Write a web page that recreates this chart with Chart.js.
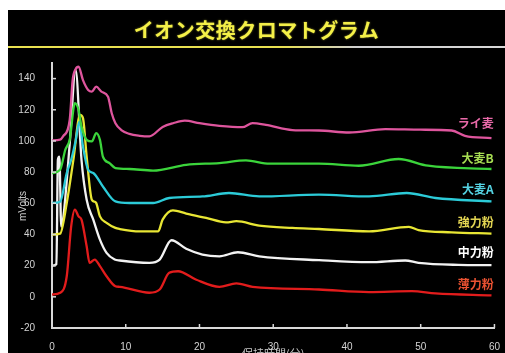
<!DOCTYPE html>
<html><head><meta charset="utf-8">
<script src="https://cdn.jsdelivr.net/npm/chart.js@4/dist/chart.umd.min.js"></script>
<style>
html,body{margin:0;padding:0;background:#fff;width:505px;height:353px;overflow:hidden;}
#panel{position:absolute;left:8px;top:10px;width:497px;height:360px;background:#000;overflow:hidden;}
#title{position:absolute;left:0;top:8px;width:497px;text-align:center;font-weight:bold;font-size:20px;font-family:'Noto Sans CJK JP',sans-serif;color:#f4f048;line-height:24px;letter-spacing:0.5px;text-shadow:0 0 2px rgba(244,240,72,0.6);}
#rule{position:absolute;left:0;top:36px;width:497px;height:2px;background:linear-gradient(to right,#e8e050 0%,#e8e050 55%,#cfcfcf 70%,#d8d8d8 100%);}
#ylab{position:absolute;left:-15px;top:190px;width:60px;height:12px;line-height:12px;text-align:center;font-size:10px;font-family:'Liberation Sans',Arial,sans-serif;color:#d0d0d0;transform:rotate(-90deg);}
canvas{position:absolute;left:0;top:0;}
</style></head>
<body>
<div id="panel">
<canvas id="c" width="497" height="360"></canvas>
<div id="title">イオン交換クロマトグラム</div>
<div id="rule"></div>
<div id="ylab">mVolts</div>
</div>
<script>
// ---- data (retention time in minutes, signal in mV) ----
const seriesNames = ['ライ麦','大麦B','大麦A','強力粉','中力粉','薄力粉'];

const ryeT = [0,1.1,1.5,2.4,2.8,3.2,3.6,4.2,4.9,5.4,6.0,6.7,7.6,8.1,8.6,9.4,10.5,11.9,13.2,15.0,16.5,18.0,20.0,22.7,25.8,27.2,29.0,32.6,36.2,40.3,45.2,50.0,54.2,56.0,59.6];
const ryeV = [100.4,100.8,102.9,113.5,139,146,147.6,139,132.7,131.6,134.8,131.6,128.4,117.8,111.4,107,104.5,103.3,102.9,109,111.5,113,111.4,109.7,108.8,111.4,110.3,107,106.7,105.4,107.6,107.2,106.7,103.3,101.8];

const barleyBT = [0,1.1,1.8,2.4,3.1,3.6,4.0,4.7,5.4,6.0,6.5,6.9,7.8,8.6,10.5,13.7,18.2,22.7,26.3,29.5,36.2,41.6,47.0,51.0,59.6];
const barleyBV = [79.4,81.5,94.3,100.7,124.2,120,109.2,100.7,99.7,105,100.7,90,85.8,82.6,82,81,84.7,85.8,87.5,85.4,85.4,84.1,88.4,84.1,82];

const barleyAT = [0,1.1,2.0,2.6,3.2,3.7,4.2,4.9,5.6,6.9,8.6,10.5,13.7,15.9,20.4,24.0,28.1,36.2,43.0,48.1,52.0,59.6];
const barleyAV = [60.2,61,79.4,87.9,100,112.4,96.4,81.5,79.4,70.8,61.2,60.2,60.2,63.4,64.4,66.6,64.4,65.5,64.4,66.6,63.4,61.2];

const strongT = [0,1.1,2.0,2.9,3.8,4.2,4.7,5.4,5.8,6.0,6.5,7.4,8.6,9.2,11.9,14.4,15.0,16.4,18.2,20.9,23.6,25.0,28.1,32.6,36.2,43.0,48.4,49.7,54.2,59.6];
const strongV = [39.9,40.5,60.2,87.9,116.7,114.6,90,62.3,61,60.2,51.6,47.4,44.2,43.5,42,42,49.5,55.5,53.4,50.6,47.8,48.5,45.7,44.2,43.5,42,44.9,42.8,41.4,40.6];

const mediumT = [0,0.6,0.8,1.0,1.25,1.5,2.4,3.2,4.0,4.7,5.6,6.5,7.4,8.5,9.2,13.2,14.6,16.2,18.2,20.4,22.7,25.2,28.1,36.2,43.0,47.9,49.7,55.1,59.6];
const mediumV = [20,21,88,90,45,49.5,98,145.5,87.9,62.3,49.5,36.7,28.2,23.9,23.3,21.8,23.9,36.3,30.8,27.1,26,28.6,26,23.5,22.2,23.3,21.8,20.5,20.3];

const weakT = [0,1.1,2.0,2.6,3.1,3.6,4.0,4.7,5.1,5.8,6.5,7.4,8.6,9.2,13.2,14.6,15.9,17.1,19.5,22.7,25.0,27.2,36.2,43.0,48.8,52.0,59.6];
const weakV = [1.5,2.6,13.2,45.2,56,51.6,49.5,32.4,21.8,23.9,19.7,13.2,6.8,6.4,2.6,4.7,15.4,16.4,11.1,6.4,8.6,6.4,4.7,3.0,3.6,2.2,0.9];

const labelTime = 59.9;
const labelValues = [111,88.6,68.7,47.8,28.2,7.9];

const yTickValues = [-20,0,20,40,60,80,100,120,140];
const xTickValues = [0,10,20,30,40,50,60];

const lineColors = ['#de559d','#3bd43b','#2ccbd8','#e8e634','#f2f2f2','#e21c1c'];
const labelColors = ['#ea6aa9','#a6dc52','#55d2e2','#e2d452','#ffffff','#ea5232'];

const allT = [ryeT,barleyBT,barleyAT,strongT,mediumT,weakT];
const allV = [ryeV,barleyBV,barleyAV,strongV,mediumV,weakV];

const datasets = seriesNames.map((n,i)=>({
  label:n,
  data: allT[i].map((t,k)=>({x:t,y:allV[i][k]})),
  borderColor: lineColors[i],
  borderWidth: 2.3,
  pointRadius: 0,
  cubicInterpolationMode: 'monotone',
  fill:false
}));

const decor = {
  id:'decor',
  afterDraw(chart){
    const ctx = chart.ctx, xs = chart.scales.x, ys = chart.scales.y, ca = chart.chartArea;
    ctx.save();
    ctx.strokeStyle = '#d8d8d8'; ctx.lineWidth = 1.5;
    yTickValues.forEach(v=>{
      const py = ys.getPixelForValue(v);
      ctx.beginPath(); ctx.moveTo(ca.left, py); ctx.lineTo(ca.left+4, py); ctx.stroke();
    });
    xTickValues.forEach(v=>{
      const px = xs.getPixelForValue(v);
      ctx.beginPath(); ctx.moveTo(px, ca.bottom); ctx.lineTo(px, ca.bottom-4); ctx.stroke();
    });
    ctx.font = "bold 12px 'Noto Sans CJK JP', sans-serif";
    ctx.textAlign = 'right'; ctx.textBaseline = 'middle';
    seriesNames.forEach((n,i)=>{
      ctx.fillStyle = labelColors[i];
      ctx.fillText(n, xs.getPixelForValue(labelTime), ys.getPixelForValue(labelValues[i]));
    });
    ctx.restore();
  }
};

new Chart(document.getElementById('c'),{
  type:'line',
  data:{datasets},
  plugins:[decor],
  options:{
    responsive:false,
    animation:false,
    layout:{padding:{top:53,right:9,left:0,bottom:0}},
    plugins:{legend:{display:false},tooltip:{enabled:false},title:{display:false}},
    scales:{
      x:{
        type:'linear',min:0,max:60,
        afterFit(s){s.height=42;},
        afterBuildTicks(s){s.ticks = xTickValues.map(v=>({value:v}));},
        grid:{display:false},
        border:{display:true,color:'#d8d8d8',width:2},
        ticks:{color:'#d4d4d4',font:{family:"'Liberation Sans', Arial, sans-serif",size:10},padding:5,maxRotation:0},
        title:{display:true,text:'保持時間(分)',color:'#c8c8c8',font:{family:"'Noto Sans CJK JP', sans-serif",size:11},padding:{top:0,bottom:10}}
      },
      y:{
        type:'linear',min:-20,max:150,
        afterFit(s){s.width=44;},
        afterBuildTicks(s){s.ticks = yTickValues.map(v=>({value:v}));},
        grid:{display:false},
        border:{display:true,color:'#d8d8d8',width:2},
        ticks:{color:'#d4d4d4',font:{family:"'Liberation Sans', Arial, sans-serif",size:10},padding:9}
      }
    }
  }
});
</script>
</body></html>
